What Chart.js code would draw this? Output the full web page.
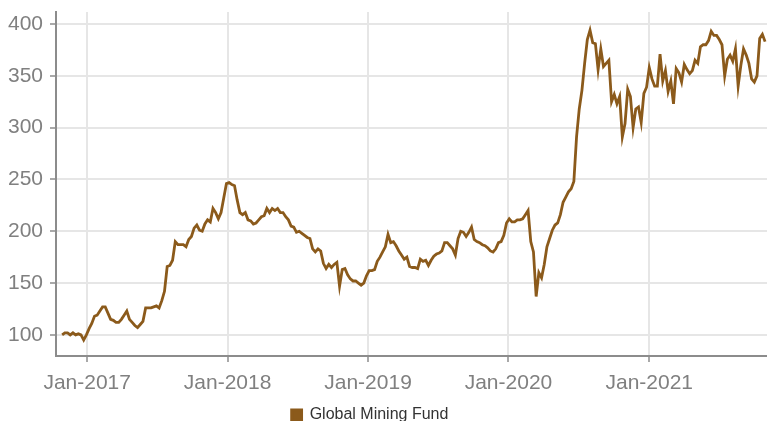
<!DOCTYPE html>
<html>
<head>
<meta charset="utf-8">
<script src="https://cdn.jsdelivr.net/npm/chart.js@4.4.0/dist/chart.umd.min.js"></script>
<style>
  html, body { margin: 0; padding: 0; overflow: hidden; background: #fff; }
  #wrap { width: 767px; height: 421px; overflow: hidden; }
  canvas { display: block; }
</style>
</head>
<body>
<div id="wrap"><canvas id="mycanvas" width="767" height="433"></canvas></div>
<script>
// weekly fund values, first week ending 28 Oct 2016
var seriesName = 'Global Mining Fund';
var startDate = [2016, 9, 28];
var weeklyValues = [
  100,102,102,100,102,100,101,100,95,100,106,111,118,119,123,127,127,121,115,114,112,112,115,119,123,115,112,109,107,110,113,126,126,126,127,128,126,133,142,166,167,172,190,187,187,187,
  185,192,195,203,206,201,200,207,211,209,222,218,212,218,232,246,247,245,244,230,218,216,218,211,210,207,208,211,214,215,222,218,222,220,222,218,218,214,211,205,204,199,200,198,196,194,
  193,183,180,183,181,169,164,168,165,168,170,147,163,164,158,154,152,152,150,148,150,157,162,162,163,171,175,180,185,197,189,190,186,181,177,173,175,166,165,165,164,173,171,172,167,
  172,176,178,179,181,189,189,186,183,177,193,200,199,195,199,204,192,190,189,187,186,184,181,180,183,189,190,196,208,212,209,209,211,211,212,216,220,190,180,137,160,155,168,185,193,201,206,208,216,228,
  233,238,241,248,291,318,336,362,385,394,382,381,356,376,359,362,365,325,332,323,330,291,304,337,330,300,318,320,305,333,339,358,347,340,340,371,345,355,335,345,323,357,353,344,361,356,352,355,365,362,378,380,380,384,393,389,389,385,380,350,366,370,364,376,340,360,376,370,362,347,344,350,386,390,383
];
var yTickValues = [100, 150, 200, 250, 300, 350, 400];
var xTickYears = [2017, 2018, 2019, 2020, 2021];
var months = ['Jan','Feb','Mar','Apr','May','Jun','Jul','Aug','Sep','Oct','Nov','Dec'];

var DAY = 86400000;
var t0 = Date.UTC(startDate[0], startDate[1], startDate[2]);
var points = [];
for (var i = 0; i < weeklyValues.length; i++) {
    points.push({x: t0 + i * 7 * DAY, y: weeklyValues[i]});
}

var brown = '#8b5a1b';
var tickFont = {family: "'Liberation Sans', Arial, Helvetica, sans-serif", size: 21};

// legend in the original sits a little left of centre
var legendShift = {
    id: 'legendShift',
    afterLayout: function(chart) {
        chart.legend.right -= 27;
    }
};

var ctx = document.getElementById('mycanvas');
var lineGraph = new Chart(ctx, {
    type: 'line',
    data: {
        datasets: [{
            label: seriesName,
            data: points,
            borderColor: brown,
            backgroundColor: brown,
            borderWidth: 2.8,
            pointRadius: 0,
            tension: 0
        }]
    },
    plugins: [legendShift],
    options: {
        responsive: false,
        animation: false,
        devicePixelRatio: 1,
        layout: {padding: {top: 12, right: 0, left: 0, bottom: 0}},
        plugins: {
            legend: {
                position: 'bottom',
                labels: {
                    boxWidth: 10,
                    boxHeight: 10,
                    padding: 10,
                    color: '#333',
                    font: {family: "'Liberation Sans', Arial, Helvetica, sans-serif", size: 16}
                }
            },
            tooltip: {enabled: false}
        },
        scales: {
            x: {
                type: 'linear',
                min: Date.UTC(2016, 9, 12),
                max: Date.UTC(2021, 10, 3),
                afterBuildTicks: function(scale) {
                    scale.ticks = xTickYears.map(function(y) { return {value: Date.UTC(y, 0, 1)}; });
                },
                afterFit: function(scale) { scale.height = 41; },
                ticks: {
                    autoSkip: false,
                    maxRotation: 0,
                    padding: 9,
                    color: '#808080',
                    font: tickFont,
                    callback: function(v) {
                        var d = new Date(v);
                        return months[d.getUTCMonth()] + '-' + d.getUTCFullYear();
                    }
                },
                grid: {color: '#e6e6e6', lineWidth: 2, tickColor: '#8c8c8c', tickLength: 6, tickWidth: 1.5},
                border: {color: '#8c8c8c', width: 2}
            },
            y: {
                min: 79.6,
                max: 411.6,
                afterBuildTicks: function(scale) {
                    scale.ticks = yTickValues.map(function(v) { return {value: v}; });
                },
                afterFit: function(scale) {
                    scale.width = 56;
                    scale.paddingTop = 0;
                    scale.paddingBottom = 0;
                },
                ticks: {padding: 7, color: '#808080', font: tickFont},
                grid: {color: '#e6e6e6', lineWidth: 2, tickColor: '#8c8c8c', tickLength: 6, tickWidth: 1.5},
                border: {color: '#8c8c8c', width: 2}
            }
        }
    }
});
</script>
</body>
</html>
